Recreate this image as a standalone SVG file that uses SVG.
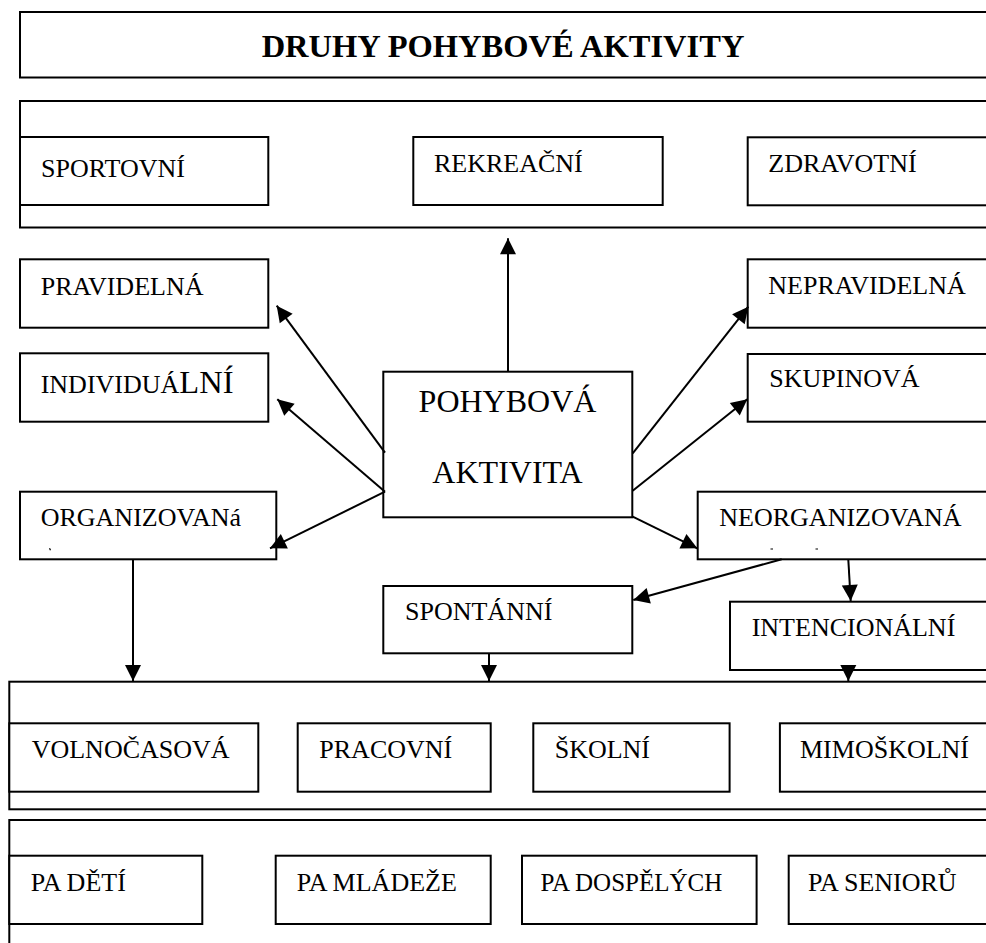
<svg xmlns="http://www.w3.org/2000/svg" width="986" height="943" viewBox="0 0 986 943">
<style>
.b{fill:#fff;stroke:#000;stroke-width:2}
.band{fill:none;stroke:#000;stroke-width:2}
.t{font-family:"Liberation Serif","Times New Roman",serif;font-size:26px;fill:#000}
.c{stroke:#000;stroke-width:2;fill:none;marker-end:url(#ah)}
</style>
<defs>
<marker id="ah" markerUnits="userSpaceOnUse" markerWidth="18" markerHeight="18" refX="16" refY="8" orient="auto" overflow="visible">
<path d="M0,0 L16,8 L0,16 z" fill="#000"/>
</marker>
</defs>
<rect width="986" height="943" fill="#fff"/>
<g id="title">
<rect class="b" x="20" y="12" width="1000" height="65.5"/>
<text x="503" y="57" text-anchor="middle" style="font-family:'Liberation Serif','Times New Roman',serif;font-size:32.5px;font-weight:bold">DRUHY POHYBOVÉ AKTIVITY</text>
</g>
<g id="band-typ">
<rect class="band" x="20" y="101" width="1000" height="126.5"/>
</g>
<g id="sportovni">
<rect class="b" x="20" y="137" width="248.3" height="68"/>
<text class="t" x="41" y="177">SPORTOVNÍ</text>
</g>
<g id="rekreacni">
<rect class="b" x="413.3" y="137" width="249.4" height="68"/>
<text class="t" x="434" y="172.3">REKREAČNÍ</text>
</g>
<g id="zdravotni">
<rect class="b" x="747.7" y="137.3" width="300" height="68"/>
<text class="t" x="768.3" y="171.7">ZDRAVOTNÍ</text>
</g>
<g id="pravidelna">
<rect class="b" x="20" y="259.3" width="248.3" height="68.4"/>
<text class="t" x="40.7" y="295">PRAVIDELNÁ</text>
</g>
<g id="individualni">
<rect class="b" x="20" y="353.3" width="248.3" height="68.4"/>
<text class="t" x="40.7" y="392.7">INDIVIDUÁ<tspan style="font-size:32.5px">LNÍ</tspan></text>
</g>
<g id="organizovana">
<rect class="b" x="20" y="491.7" width="256.3" height="67.6"/>
<text class="t" x="40.7" y="526">ORGANIZOVANá</text>
<path d="M49.5,548.3 L50.5,550.3" stroke="#000" stroke-width="1.2"/>
</g>
<g id="nepravidelna">
<rect class="b" x="747.7" y="259.3" width="300" height="68.4"/>
<text class="t" x="768.3" y="294.3">NEPRAVIDELNÁ</text>
</g>
<g id="skupinova">
<rect class="b" x="747.7" y="354" width="300" height="67.7"/>
<text class="t" x="769.3" y="386.7">SKUPINOVÁ</text>
</g>
<g id="neorganizovana">
<rect class="b" x="697.7" y="491.7" width="350" height="67.6"/>
<text class="t" x="719.3" y="525.7">NEORGANIZOVANÁ</text>
<path d="M770.5,549 L773,549 M815.5,549 L818,549" stroke="#000" stroke-width="1.2"/>
</g>
<g id="pohybova-aktivita">
<rect class="b" x="383.3" y="371.7" width="249" height="145.6"/>
<text class="t" x="507.5" y="411.7" text-anchor="middle" style="font-size:32px">POHYBOVÁ</text>
<text class="t" x="507.5" y="482.7" text-anchor="middle" style="font-size:32px">AKTIVITA</text>
</g>
<g id="spontanni">
<rect class="b" x="383.3" y="586" width="249" height="67.3"/>
<text class="t" x="405" y="620">SPONTÁNNÍ</text>
</g>
<g id="intencionalni">
<rect class="b" x="730" y="601.7" width="320" height="68.3"/>
<text class="t" x="751.7" y="635.7">INTENCIONÁLNÍ</text>
</g>
<g id="band-prostredi">
<rect class="band" x="9.3" y="681.7" width="1010" height="127.6"/>
</g>
<g id="volnocasova">
<rect class="b" x="9.3" y="723.3" width="249" height="68.4"/>
<text class="t" x="31.7" y="758.3">VOLNOČASOVÁ</text>
</g>
<g id="pracovni">
<rect class="b" x="297.7" y="723.3" width="193" height="68.4"/>
<text class="t" x="319.3" y="758.3">PRACOVNÍ</text>
</g>
<g id="skolni">
<rect class="b" x="533.3" y="723.3" width="196.3" height="68.4"/>
<text class="t" x="554.7" y="758.3">ŠKOLNÍ</text>
</g>
<g id="mimoskolni">
<rect class="b" x="779.9" y="723.3" width="300" height="68.4"/>
<text class="t" x="800" y="758.3">MIMOŠKOLNÍ</text>
</g>
<g id="band-vek">
<path class="band" d="M1020,820 L9.3,820 L9.3,945"/>
</g>
<g id="pa-deti">
<rect class="b" x="9.3" y="855.7" width="193" height="68.3"/>
<text class="t" x="30.7" y="890.7">PA DĚTÍ</text>
</g>
<g id="pa-mladeze">
<rect class="b" x="275.7" y="855.7" width="215" height="68.3"/>
<text class="t" x="296.7" y="890.7">PA MLÁDEŽE</text>
</g>
<g id="pa-dospelych">
<rect class="b" x="522" y="855.7" width="234.6" height="68.3"/>
<text class="t" x="540.5" y="890.7" style="font-size:25px">PA DOSPĚLÝCH</text>
</g>
<g id="pa-senioru">
<rect class="b" x="788.7" y="855.7" width="300" height="68.3"/>
<text class="t" x="808" y="890.7">PA SENIORŮ</text>
</g>
<g id="connectors">
<path class="c" d="M508,371.7 L508,238.3"/>
<path class="c" d="M385,452.7 L276.7,305.7"/>
<path class="c" d="M385,491.7 L277.3,399.3"/>
<path class="c" d="M385,491.7 L270,548.3"/>
<path class="c" d="M632.7,453.3 L748.3,306.7"/>
<path class="c" d="M632.7,490.7 L747.3,399.3"/>
<path class="c" d="M632.7,516.7 L697.3,548.3"/>
<path class="c" d="M781.7,559.3 L633.3,600"/>
<path class="c" d="M848.3,559.3 L850.7,601"/>
<path class="c" d="M848.3,665 L848.3,681"/>
<path class="c" d="M489,653.3 L489,681"/>
<path class="c" d="M133,559.3 L133,681"/>
</g>
</svg>
